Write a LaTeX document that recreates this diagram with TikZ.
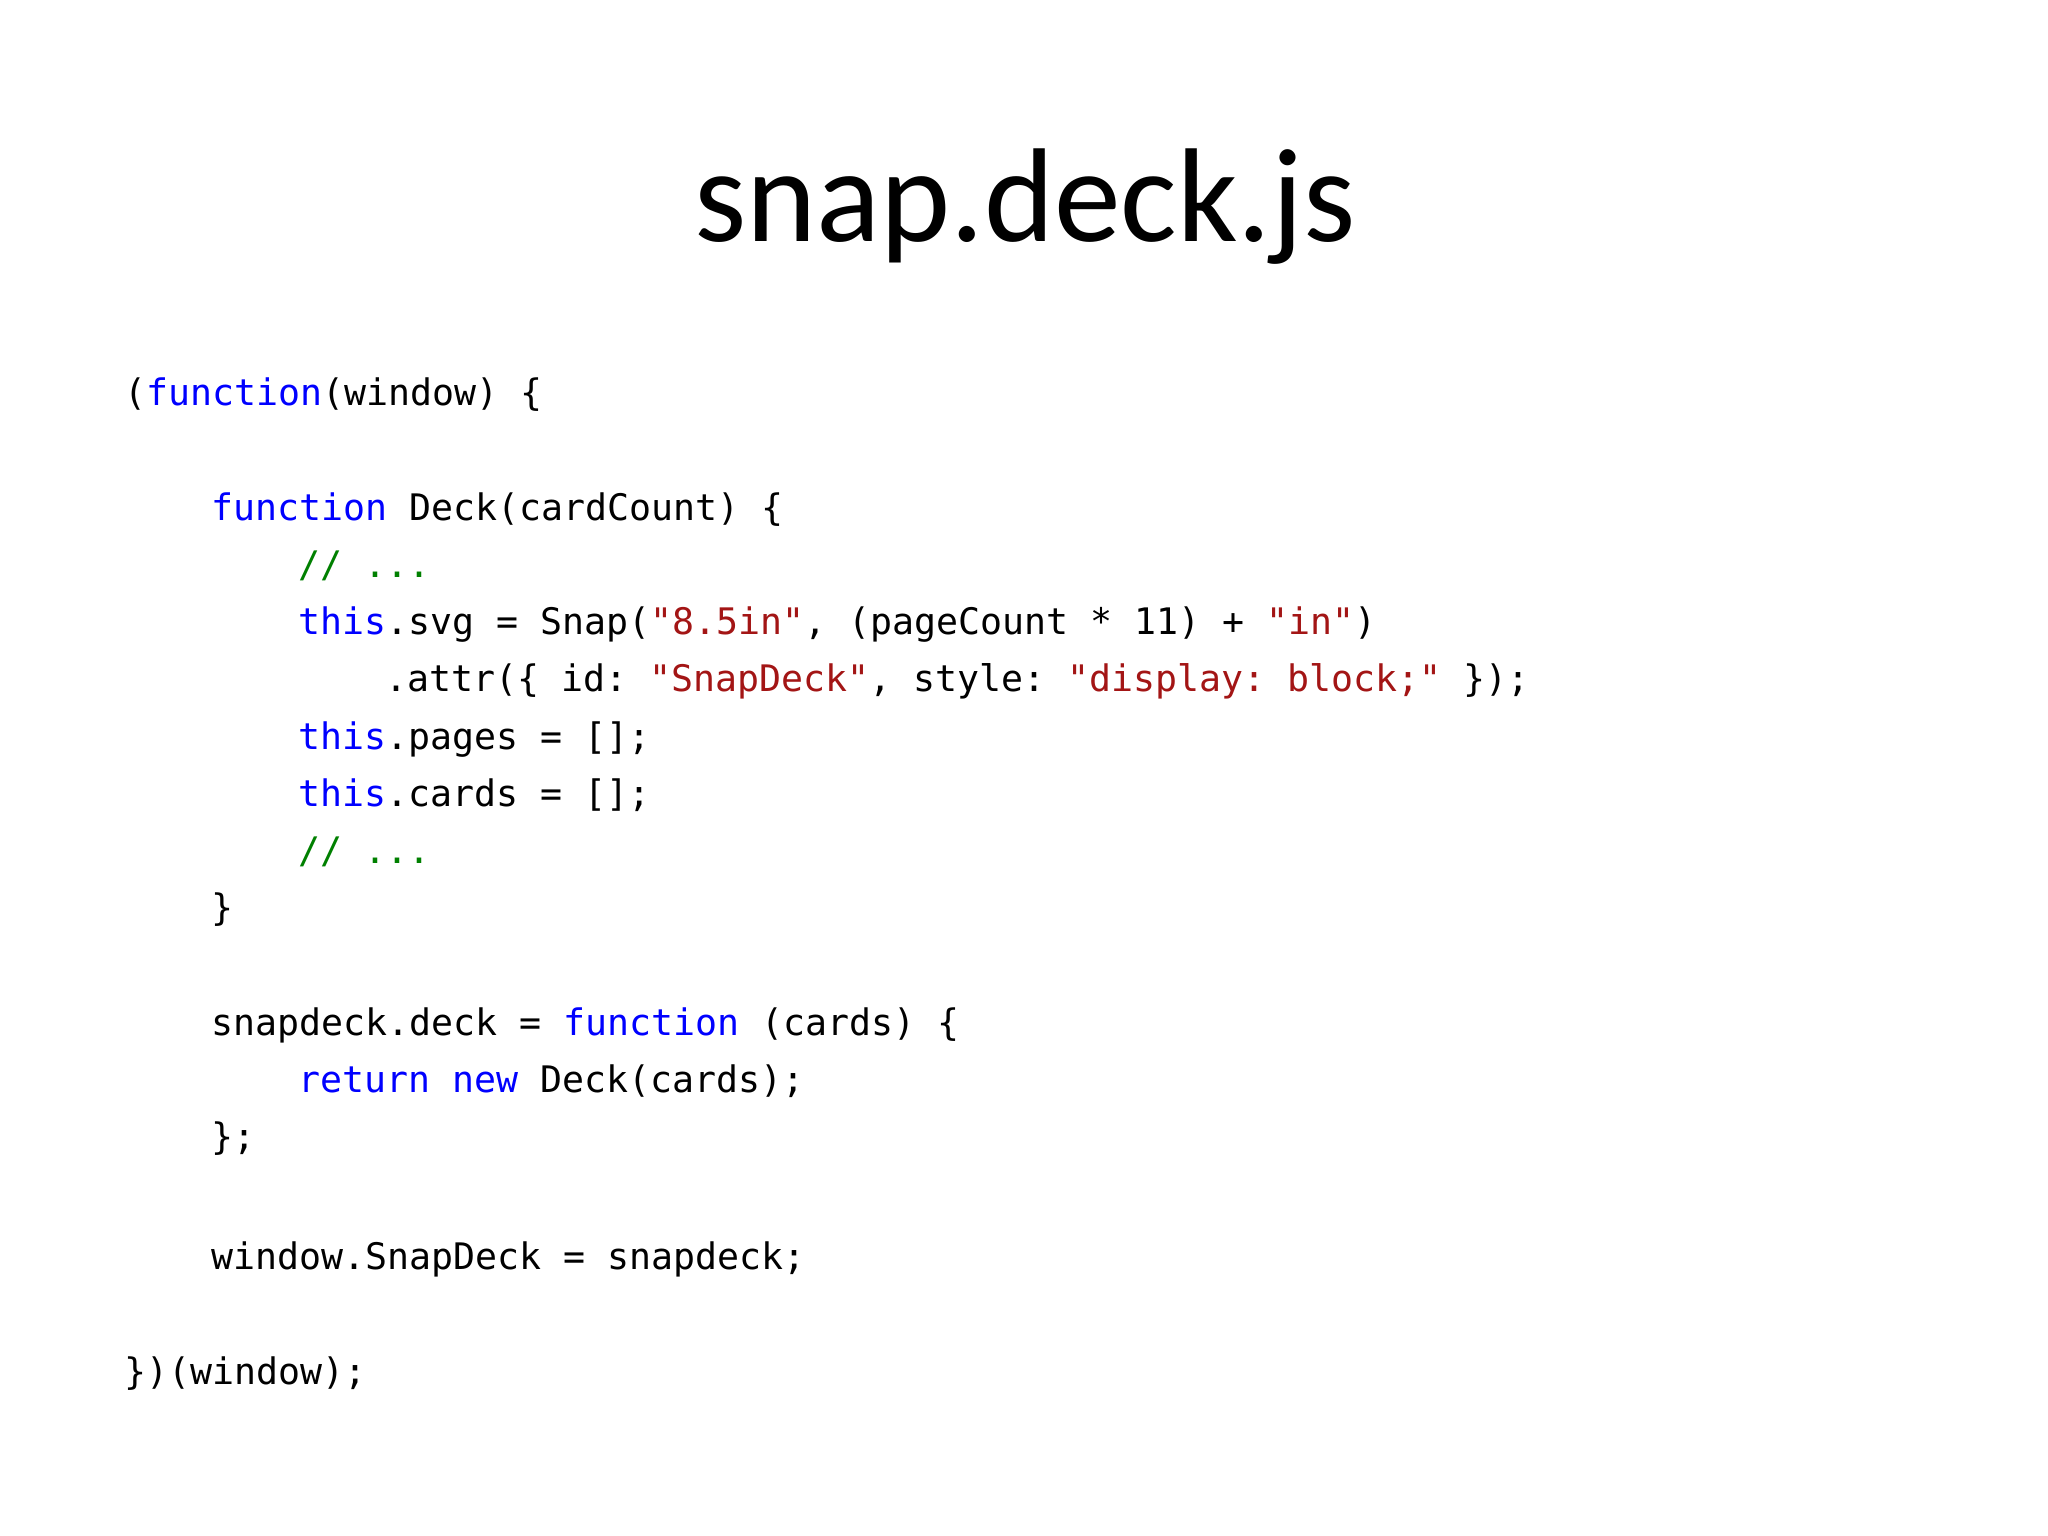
\documentclass[tikz,border=0pt]{standalone}
\usepackage{fontspec}
\setmainfont{Carlito}
\setmonofont{DejaVu Sans Mono}
\definecolor{kw}{RGB}{0,0,255}
\definecolor{str}{RGB}{163,21,21}
\definecolor{cmt}{RGB}{0,128,0}
\newcommand{\K}[1]{\textcolor{kw}{#1}}
\newcommand{\Sx}[1]{\textcolor{str}{#1}}
\newcommand{\Cm}[1]{\textcolor{cmt}{#1}}
\begin{document}
\begin{tikzpicture}[x=1cm,y=1cm,
  code/.style={anchor=base west,inner sep=0pt,font=\ttfamily\fontsize{10.4pt}{12pt}\selectfont}]
\useasboundingbox (0,0) rectangle (20.48,15.36);
\fill[white] (0,0) rectangle (20.48,15.36);
\node[anchor=base,inner sep=0pt,font=\fontsize{38pt}{44pt}\selectfont] (title) at (10.25,12.94) {snap.deck.js};
\def\L{1.24}\def\I{0.868}
\newcommand{\ly}[1]{11.30-0.572*#1}
\node[code] (l0) at (\L,{\ly{0}}) {(\K{function}(window) \{};
\node[code] (l2) at (\L+\I,{\ly{2}}) {\K{function} Deck(cardCount) \{};
\node[code] (l3) at (\L+2*\I,{\ly{3}}) {\Cm{// ...}};
\node[code] (l4) at (\L+2*\I,{\ly{4}}) {\K{this}.svg = Snap(\Sx{"8.5in"}, (pageCount * 11) + \Sx{"in"})};
\node[code] (l5) at (\L+3*\I,{\ly{5}}) {.attr(\{ id: \Sx{"SnapDeck"}, style: \Sx{"display: block;"} \});};
\node[code] (l6) at (\L+2*\I,{\ly{6}}) {\K{this}.pages = [];};
\node[code] (l7) at (\L+2*\I,{\ly{7}}) {\K{this}.cards = [];};
\node[code] (l8) at (\L+2*\I,{\ly{8}}) {\Cm{// ...}};
\node[code] (l9) at (\L+\I,{\ly{9}}) {\}};
\node[code] (l11) at (\L+\I,{\ly{11}}) {snapdeck.deck = \K{function} (cards) \{};
\node[code] (l12) at (\L+2*\I,{\ly{12}}) {\K{return} \K{new} Deck(cards);};
\node[code] (l13) at (\L+\I,{\ly{13}}) {\};};
\node[code] (l15) at (\L+\I,{\ly{15.1}}) {window.SnapDeck = snapdeck;};
\node[code] (l17) at (\L,{\ly{17.1}}) {\})(window);};
\end{tikzpicture}
\end{document}
